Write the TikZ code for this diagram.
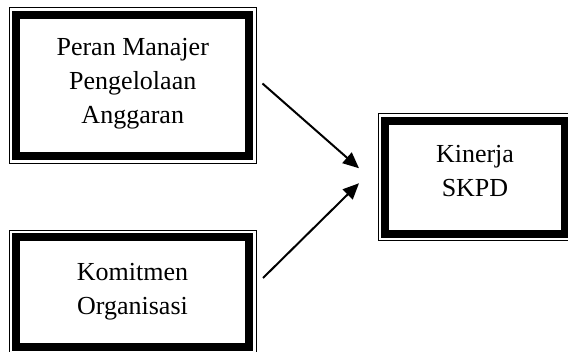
\documentclass[tikz,border=0pt]{standalone}
\usepackage{fontspec}
\setmainfont{Liberation Serif}
\usetikzlibrary{arrows.meta}

\begin{document}
\begin{tikzpicture}[x=0.75pt, y=0.75pt]
                \tikzstyle{varbox} = [draw, line width=6pt, outer sep=0pt, inner sep=0pt, align=center, font=\fontsize{19.5}{25.5}\selectfont]
                \tikzstyle{outline} = [line width=0.75pt]
                \tikzstyle{link} = [line width=1.5pt, -{Triangle[length=12pt, width=10.5pt]}]
                \clip (0,0) rectangle (568,351);
                \node[varbox, minimum width=175.1pt, minimum height=105.75pt] (peran) at (132.75, 265.5) {Peran Manajer\\Pengelolaan\\Anggaran\rule[-7.5pt]{0pt}{0pt}};
                \node[varbox, minimum width=174.75pt, minimum height=82.5pt] (komitmen) at (132.5, 59) {Komitmen\\Organisasi};
                \node[varbox, minimum width=135pt, minimum height=85.1pt] (kinerja) at (475, 173.75) {Kinerja\\SKPD\rule[-10pt]{0pt}{0pt}};
                \foreach \n in {peran, komitmen, kinerja} {
                    \draw[outline] ([shift={(-7,7)}]\n.north west) rectangle ([shift={(7,-7)}]\n.south east);
                }
                \draw[link] ([shift={(13,2)}]peran.east) -- ([shift={(-26,9)}]kinerja.west);
                \draw[link] ([shift={(14,14)}]komitmen.east) -- ([shift={(-26,-6)}]kinerja.west);
            \end{tikzpicture}
\end{document}
